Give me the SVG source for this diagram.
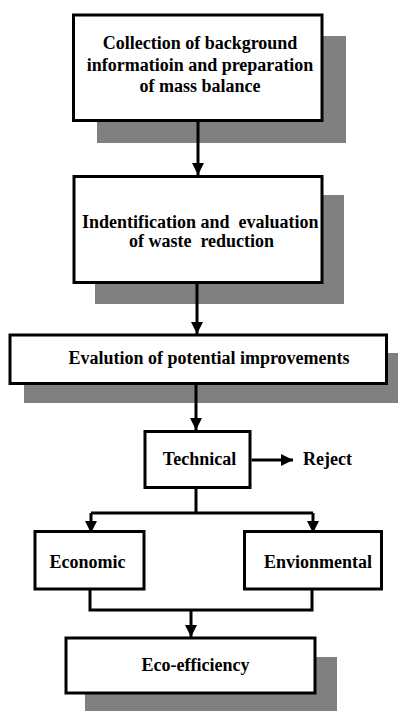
<svg xmlns="http://www.w3.org/2000/svg" width="398" height="711" viewBox="0 0 398 711">
<defs>
<style>
.box{fill:#fff;stroke:#000;stroke-width:3}
.shadow{fill:#808080;stroke:none}
.t{font-size:18px;font-weight:bold;fill:#000}
.m{text-anchor:middle}
.c{fill:none;stroke:#000;stroke-width:3}
</style>
<marker id="ah" markerUnits="userSpaceOnUse" markerWidth="12" markerHeight="12" viewBox="0 0 12 12" refX="12" refY="6" orient="auto">
<path d="M0,0 L12,6 L0,12 z" fill="#000"/>
</marker>
</defs>
<rect width="398" height="711" fill="#fff"/>
<g font-family="'Liberation Serif', 'Times New Roman', 'DejaVu Serif', serif">
<g id="node-collection">
<rect class="shadow" x="97" y="36" width="249" height="107"/>
<rect class="box" x="73.5" y="15" width="248.5" height="105.5"/>
<text class="t m" x="200" y="49">Collection of background</text>
<text class="t m" x="200" y="71">informatioin and preparation</text>
<text class="t m" x="200" y="92">of mass balance</text>
</g>
<g id="node-identification">
<rect class="shadow" x="95" y="195" width="249" height="109"/>
<rect class="box" x="74" y="176.5" width="248" height="106"/>
<text class="t" x="82" y="228" xml:space="preserve">Indentification and  evaluation</text>
<text class="t m" x="201.5" y="247" xml:space="preserve">of waste  reduction</text>
</g>
<g id="node-evaluation">
<rect class="shadow" x="24" y="353" width="376" height="50"/>
<rect class="box" x="10" y="335" width="376.5" height="48.5"/>
<text class="t m" x="209" y="364">Evalution of potential improvements</text>
</g>
<g id="node-technical">
<rect class="box" x="145" y="431.5" width="105" height="56"/>
<text class="t m" x="199.5" y="465">Technical</text>
</g>
<g id="node-reject">
<text class="t" x="303" y="465">Reject</text>
</g>
<g id="node-economic">
<rect class="box" x="35" y="531.5" width="109" height="57.5"/>
<text class="t m" x="87.5" y="568">Economic</text>
</g>
<g id="node-environmental">
<rect class="box" x="244.5" y="531.5" width="137" height="57.5"/>
<text class="t m" x="318" y="568">Envionmental</text>
</g>
<g id="node-ecoefficiency">
<rect class="shadow" x="85" y="657" width="252" height="60"/>
<rect class="box" x="66" y="638" width="249" height="55"/>
<text class="t m" x="195.5" y="671">Eco-efficiency</text>
</g>
</g>
<g id="connectors">
<line class="c" x1="198" y1="122" x2="198" y2="175" marker-end="url(#ah)"/>
<line class="c" x1="197" y1="284" x2="197" y2="334" marker-end="url(#ah)"/>
<line class="c" x1="196" y1="385" x2="196" y2="430" marker-end="url(#ah)"/>
<line class="c" x1="251.5" y1="460" x2="293" y2="460" marker-end="url(#ah)"/>
<polyline class="c" points="196,489 196,513"/>
<polyline class="c" points="91,513 313,513"/>
<line class="c" x1="91" y1="513" x2="91" y2="533" marker-end="url(#ah)"/>
<line class="c" x1="313" y1="513" x2="313" y2="533" marker-end="url(#ah)"/>
<polyline class="c" points="90,590 90,610 312,610 312,590"/>
<line class="c" x1="191" y1="610" x2="191" y2="637" marker-end="url(#ah)"/>
</g>
</svg>
